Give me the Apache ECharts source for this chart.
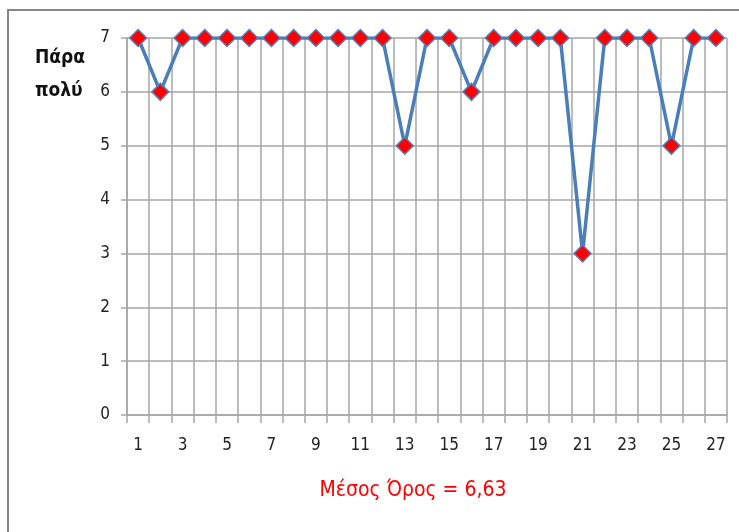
<!DOCTYPE html>
<html><head><meta charset="utf-8">
<script src="https://cdn.jsdelivr.net/npm/echarts@6/dist/echarts.min.js"></script>
<style>html,body{margin:0;padding:0;background:#fff}#c{width:739px;height:532px}</style>
</head><body><div id="c"></div>
<script>
const categories = ['1','2','3','4','5','6','7','8','9','10','11','12','13','14','15','16','17','18','19','20','21','22','23','24','25','26','27'];
const values = [7,6,7,7,7,7,7,7,7,7,7,7,5,7,7,6,7,7,7,7,3,7,7,7,5,7,7];
const yTicks = [0,1,2,3,4,5,6,7];
const titleText = 'Μέσος Όρος = 6,63';
const yTitleLines = ['Πάρα','πολύ'];

const chart = echarts.init(document.getElementById('c'));
const font = '"DejaVu Sans Condensed", "Open Sans", sans-serif';
const gridColor = '#a6a6a6';
chart.setOption({
  animation:false,
  backgroundColor:'#fff',
  grid:{left:127,right:12,top:38,bottom:117},
  xAxis:{
    type:'category', data:categories, boundaryGap:true,
    axisLine:{show:true,lineStyle:{color:gridColor,width:1.5}},
    axisTick:{show:true,length:8,interval:0,lineStyle:{color:gridColor,width:1.5}},
    splitLine:{show:true,interval:0,lineStyle:{color:gridColor,width:1.5}},
    axisLabel:{interval:1,margin:22,fontSize:17,color:'#222',fontFamily:font}
  },
  yAxis:{
    type:'value', min:0, max:7, interval:1,
    axisLine:{show:true,lineStyle:{color:gridColor,width:1.5}},
    axisTick:{show:true,length:6,lineStyle:{color:gridColor,width:1.5}},
    splitLine:{show:true,lineStyle:{color:gridColor,width:1.5}},
    axisLabel:{margin:17,fontSize:17,color:'#222',fontFamily:font,
      formatter:v=>yTicks.includes(v)?String(v):''}
  },
  series:[{
    type:'line', data:values, showAllSymbol:true,
    lineStyle:{color:'#4a7ebb',width:3.5},
    symbol:'diamond', symbolSize:17,
    itemStyle:{color:'#ff0000',borderColor:'#4f81bd',borderWidth:1.5},
    z:5
  }],
  graphic:[
    {type:'rect',shape:{x:8,y:10,width:800,height:600},style:{fill:'none',stroke:'#878787',lineWidth:2},silent:true},
    {type:'text',left:35,top:49,style:{text:yTitleLines[0],font:'bold 19px '+font,fill:'#111'}},
    {type:'text',left:35,top:82,style:{text:yTitleLines[1],font:'bold 19px '+font,fill:'#111'}},
    {type:'text',x:413,y:491,style:{text:titleText,font:'21px '+font,fill:'#ff0000',textAlign:'center',textVerticalAlign:'middle'}}
  ]
});
</script></body></html>
